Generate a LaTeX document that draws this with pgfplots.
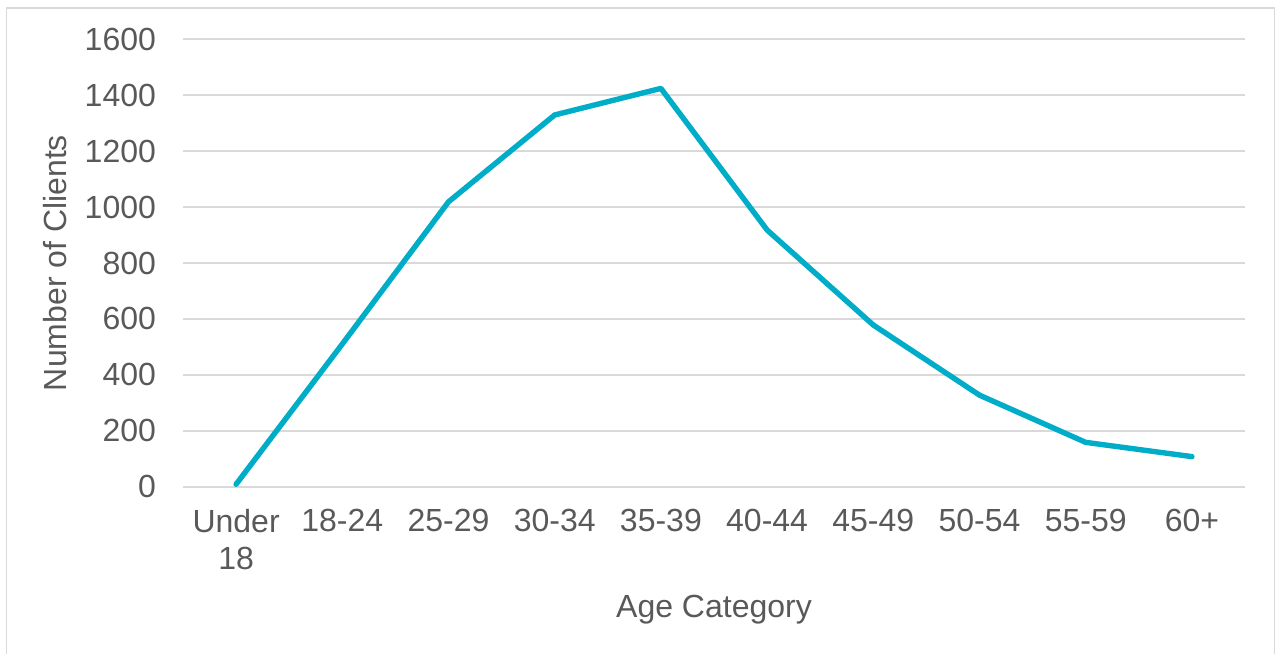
\documentclass[border=0pt]{standalone}
\usepackage{pgfplots}
\pgfplotsset{compat=1.18}
\usepackage{fontspec}
\setmainfont{Liberation Sans}
\definecolor{linec}{RGB}{0,173,200}
\definecolor{gridc}{RGB}{217,217,217}
\definecolor{textc}{RGB}{89,89,89}
\begin{document}
\begin{tikzpicture}
\useasboundingbox (-91.5pt,-83.25pt) rectangle (548pt,243.25pt);
\draw[gridc, line width=0.75pt] (-88.25pt,-84pt) -- (-88.25pt,239.25pt) -- (545.75pt,239.25pt) -- (545.75pt,-84pt);
\begin{axis}[
  at={(0,0)}, anchor=south west,
  scale only axis,
  width=531pt, height=223.5pt,
  xmin=-0.5, xmax=9.5,
  ymin=0, ymax=1600,
  ytick={0,200,...,1600},
  xtick={0,...,9},
  xticklabels={{Under\\18},18-24,25-29,30-34,35-39,40-44,45-49,50-54,55-59,60+},
  x tick label style={align=center, font=\fontsize{16}{18.5}\selectfont, text=textc, yshift=-8pt},
  y tick label style={font=\fontsize{16}{18}\selectfont, text=textc, xshift=-10pt},
  /pgf/number format/assume math mode=true,
  /pgf/number format/1000 sep={},
  axis line style={draw=none},
  major tick length=0pt,
  ymajorgrids,
  grid style={gridc, line width=1pt},
  xlabel={Age Category},
  ylabel={Number of Clients},
  label style={font=\fontsize{16}{18}\selectfont, text=textc},
  xlabel style={yshift=-5.5pt},
  ylabel style={yshift=2pt},
  clip=false,
]
\addplot[linec, line width=2.7pt, line join=round, line cap=round] coordinates {
  (0,8) (1,510) (2,1019) (3,1330) (4,1425) (5,918) (6,578) (7,327) (8,158) (9,107)
};
\end{axis}
\end{tikzpicture}
\end{document}
